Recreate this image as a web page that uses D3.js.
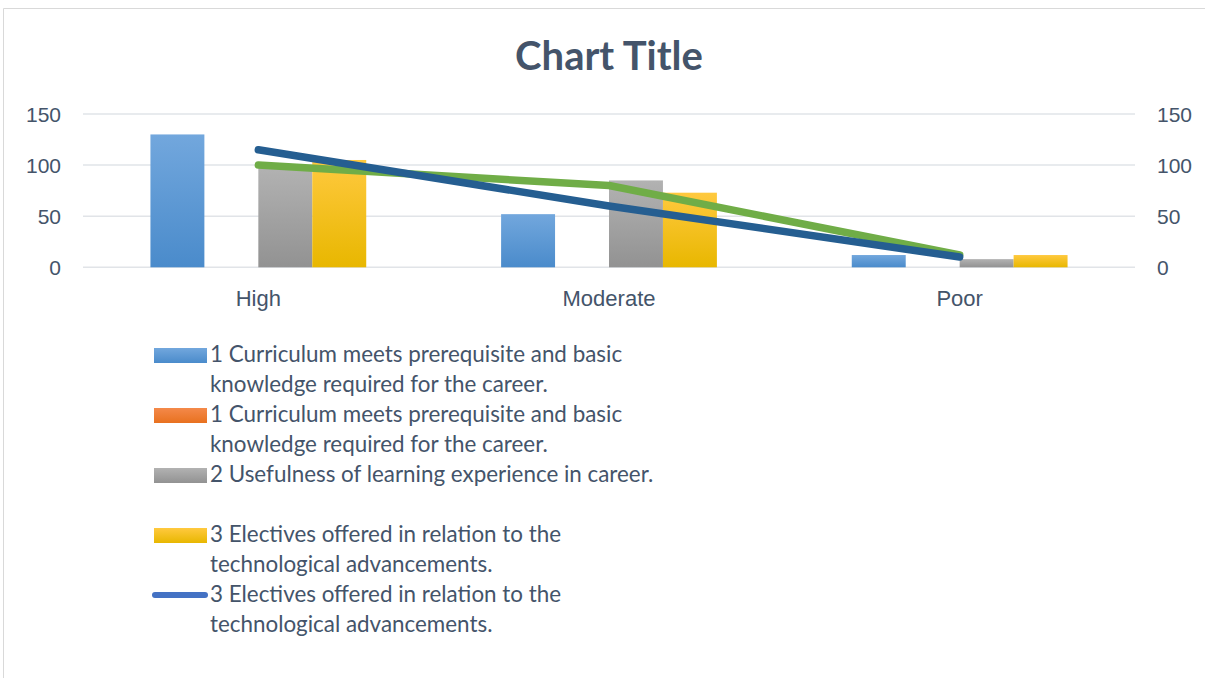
<!DOCTYPE html>
<html>
<head>
<meta charset="utf-8">
<script src="https://cdn.jsdelivr.net/npm/d3@7"></script>
<style>
  html, body { margin: 0; padding: 0; background: #fff; }
  svg { display: block; font-family: Lato, "Open Sans", sans-serif; }
</style>
</head>
<body>
<svg id="chart" width="1205" height="678"></svg>
<script>
// Survey ratings per category
const categories = ["High", "Moderate", "Poor"];
const curriculum = [130, 52, 12];
const curriculumAlt = [0, 0, 0];
const usefulness = [98, 85, 8];
const electives = [105, 73, 12];
const lineGreen = [100, 80, 12];
const lineBlue = [115, 60, 10];
const yTicks = [0, 50, 100, 150];

const legendLabels = [
  ["1 Curriculum meets prerequisite and basic", "knowledge required for the career."],
  ["1 Curriculum meets prerequisite and basic", "knowledge required for the career."],
  ["2 Usefulness of learning experience in career."],
  [""],
  ["3 Electives offered in relation to the", "technological advancements."],
  ["3 Electives offered in relation to the", "technological advancements."]
];

const barSeries = [
  { values: curriculum, grad: "gBlue" },
  { values: curriculumAlt, grad: "gOrange" },
  { values: usefulness, grad: "gGray" },
  { values: electives, grad: "gYellow" }
];

const textColor = "#44546A";
const svg = d3.select("#chart");

// gradients for the bar fills
const defs = svg.append("defs");
const grads = {
  gBlue: ["#72A7DD", "#4A8BCB"],
  gOrange: ["#F4894A", "#E8711F"],
  gGray: ["#B2B2B2", "#929292"],
  gYellow: ["#FFC93F", "#E8B700"]
};
Object.entries(grads).forEach(([id, [top, bottom]]) => {
  const g = defs.append("linearGradient").attr("id", id)
    .attr("x1", 0).attr("y1", 0).attr("x2", 0).attr("y2", 1);
  g.append("stop").attr("offset", "0%").attr("stop-color", top);
  g.append("stop").attr("offset", "100%").attr("stop-color", bottom);
});

// chart frame
svg.append("path")
  .attr("d", "M3.5,678 L3.5,8.5 L1205,8.5")
  .attr("fill", "none").attr("stroke", "#D9D9D9").attr("stroke-width", 1);

const plot = { left: 83, right: 1135, top: 114, bottom: 267.3 };

const x = d3.scaleBand().domain(categories).range([plot.left, plot.right]).paddingInner(0).paddingOuter(0);
const y = d3.scaleLinear().domain([0, 150]).range([plot.bottom, plot.top]);
const y2 = d3.scaleLinear().domain([0, 150]).range([plot.bottom, plot.top]);

// gridlines
svg.append("g").selectAll("line").data(yTicks).join("line")
  .attr("x1", plot.left).attr("x2", plot.right)
  .attr("y1", d => y(d)).attr("y2", d => y(d))
  .attr("stroke", "#E1E4E8").attr("stroke-width", 1.5);

// bars: four slots per category, 250% gap
const slotCount = barSeries.length;
const barW = x.bandwidth() / (slotCount + 2.5);
const groupOffset = (x.bandwidth() - barW * slotCount) / 2;

barSeries.forEach((s, si) => {
  svg.append("g").selectAll("rect").data(categories).join("rect")
    .attr("x", c => x(c) + groupOffset + si * barW)
    .attr("width", barW)
    .attr("y", (c, i) => y(s.values[i]))
    .attr("height", (c, i) => y(0) - y(s.values[i]))
    .attr("fill", `url(#${s.grad})`);
});

// lines on the secondary axis
const line = d3.line()
  .x((d, i) => x(categories[i]) + x.bandwidth() / 2)
  .y(d => y2(d));
[[lineGreen, "#70AD47"], [lineBlue, "#255E91"]].forEach(([vals, col]) => {
  svg.append("path").datum(vals)
    .attr("d", line)
    .attr("fill", "none").attr("stroke", col)
    .attr("stroke-width", 7.5)
    .attr("stroke-linecap", "round").attr("stroke-linejoin", "round");
});

// axes
const yAxisL = d3.axisLeft(y).tickValues(yTicks).tickSize(0).tickPadding(0);
svg.append("g").attr("transform", "translate(61,0)").call(yAxisL)
  .call(g => g.select(".domain").remove())
  .selectAll("text").attr("fill", textColor).style("font-size", "21px").attr("dy", "0.35em");

const yAxisR = d3.axisRight(y2).tickValues(yTicks).tickSize(0).tickPadding(0);
svg.append("g").attr("transform", "translate(1157,0)").call(yAxisR)
  .call(g => g.select(".domain").remove())
  .selectAll("text").attr("fill", textColor).style("font-size", "21px").attr("dy", "0.35em");

const xAxis = d3.axisBottom(x).tickSize(0).tickPadding(0);
svg.append("g").attr("transform", "translate(0,290)").call(xAxis)
  .call(g => g.select(".domain").remove())
  .selectAll("text").attr("fill", textColor).style("font-size", "22px").attr("dy", "0.71em");

// title
svg.append("text")
  .attr("x", 609).attr("y", 70)
  .attr("text-anchor", "middle")
  .attr("fill", textColor)
  .style("font-size", "40px").style("font-weight", "bold")
  .text("Chart Title");

// legend
const legend = svg.append("g");
const lineH = 30;
let row = 0;
const swatches = [
  { type: "rect", fill: "url(#gBlue)" },
  { type: "rect", fill: "url(#gOrange)" },
  { type: "rect", fill: "url(#gGray)" },
  { type: "none" },
  { type: "rect", fill: "url(#gYellow)" },
  { type: "line", stroke: "#4472C4" }
];
legendLabels.forEach((lines, i) => {
  const baseY = 362 + row * lineH;
  const sw = swatches[i];
  if (sw.type === "rect") {
    legend.append("rect").attr("x", 154).attr("y", baseY - 14).attr("width", 53).attr("height", 15).attr("fill", sw.fill);
  } else if (sw.type === "line") {
    legend.append("line").attr("x1", 155).attr("x2", 205).attr("y1", baseY - 7).attr("y2", baseY - 7)
      .attr("stroke", sw.stroke).attr("stroke-width", 6).attr("stroke-linecap", "round");
  }
  lines.forEach((t, j) => {
    legend.append("text")
      .attr("x", 210).attr("y", baseY + j * lineH)
      .attr("fill", textColor).style("font-size", "22.4px")
      .text(t);
  });
  row += lines.length;
});
</script>
</body>
</html>
